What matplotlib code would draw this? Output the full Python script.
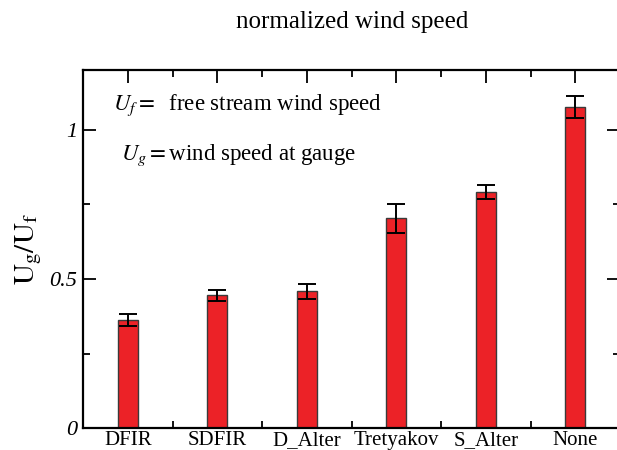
import matplotlib
matplotlib.use("Agg")
import matplotlib.pyplot as plt
from matplotlib.ticker import FixedLocator

categories = ["DFIR", "SDFIR", "D_Alter", "Tretyakov", "S_Alter", "None"]
values = [0.362, 0.445, 0.459, 0.703, 0.792, 1.075]
errors = [0.021, 0.019, 0.025, 0.049, 0.023, 0.037]

plt.rcParams['mathtext.fontset'] = 'stix'
serif = ['Liberation Serif', 'DejaVu Serif']

fig = plt.figure(figsize=(6.17, 4.5), dpi=100)
ax = fig.add_axes([83/617, 21.7/450, (620-83)/617, (428.3-70)/450])

x = list(range(1, len(categories) + 1))
ax.bar(x, values, width=0.22, color='#ec2227', edgecolor='#3a3a3a', linewidth=1.0, zorder=2)
ax.errorbar(x, values, yerr=errors, fmt='none', ecolor='black', elinewidth=1.4,
            capsize=6.5, capthick=1.4, zorder=3)

ax.set_xlim(0.5, 6.5)
ax.set_ylim(0, 1.2)
ax.set_xticks(x)
ax.set_xticklabels(categories, family=serif, fontsize=15)
ax.xaxis.set_minor_locator(FixedLocator([1.5, 2.5, 3.5, 4.5, 5.5]))
ax.set_yticks([0, 0.5, 1.0])
ax.set_yticklabels(['0', '0.5', '1'], family=serif, style='italic', fontsize=16)
ax.yaxis.set_minor_locator(FixedLocator([0.25, 0.75]))

ax.tick_params(which='both', direction='in', top=True, right=True, width=1.3, color='black')
ax.tick_params(axis='x', which='major', pad=2)
ax.tick_params(axis='y', which='major', pad=4)
ax.tick_params(which='major', length=9.5)
ax.tick_params(which='minor', length=5)
for s in ax.spines.values():
    s.set_linewidth(1.6)

ax.set_ylabel(r'$\mathrm{U_g/U_f}$', fontsize=21, labelpad=4)
fig.text(352/617, 1 - 22/450, 'normalized wind speed', ha='center', va='center',
         family=serif, fontsize=18)

ax.text(0.056, 0.902, r'$U_f =$  free stream wind speed', transform=ax.transAxes,
        family=serif, fontsize=16.5, va='center')
ax.text(0.070, 0.763, r'$U_g =$wind speed at gauge', transform=ax.transAxes,
        family=serif, fontsize=16.5, va='center')

fig.savefig('out.png', dpi=100)
